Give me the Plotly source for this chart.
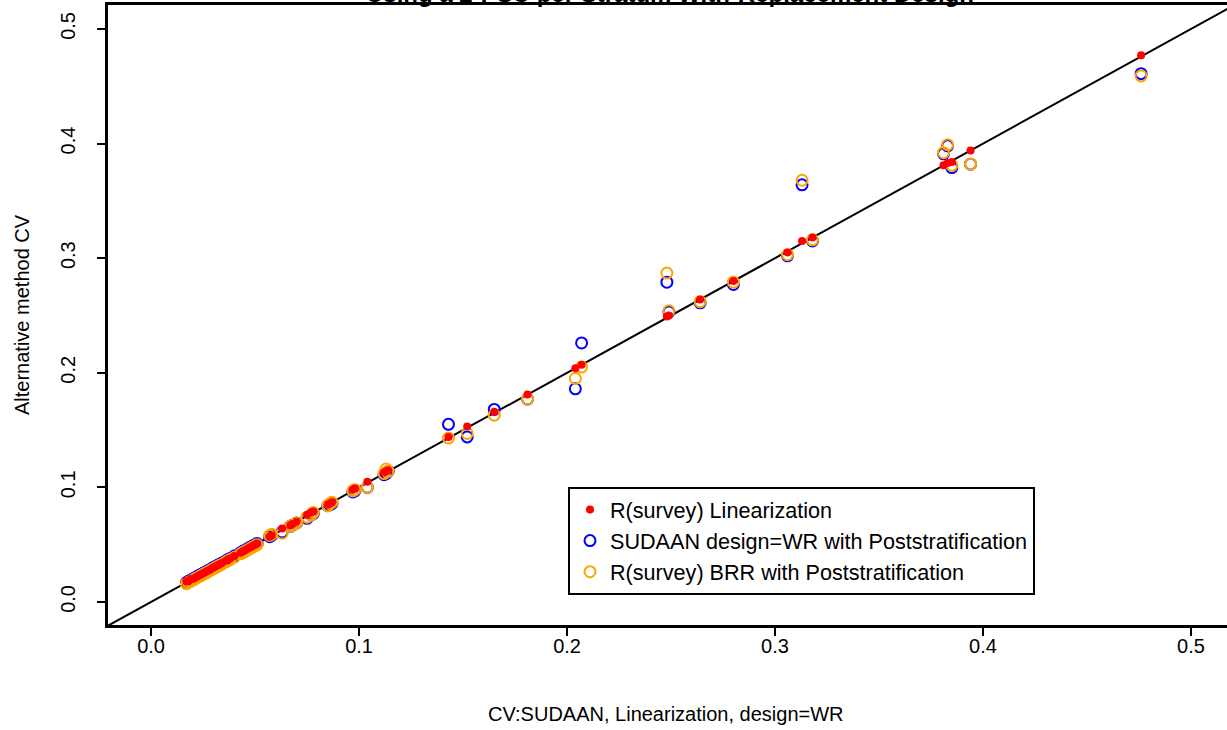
import plotly.graph_objects as go

# ---- data ----
sudaan_lin_cv = [
    0.017, 0.018, 0.019, 0.020, 0.021, 0.022, 0.023, 0.024, 0.025, 0.026,
    0.027, 0.028, 0.029, 0.030, 0.031, 0.032, 0.033, 0.034, 0.036, 0.037,
    0.038, 0.040, 0.043, 0.044, 0.045, 0.046, 0.047, 0.048, 0.049, 0.050,
    0.051, 0.057, 0.058, 0.063, 0.067, 0.068, 0.070, 0.075, 0.077, 0.078,
    0.085, 0.086, 0.087, 0.097, 0.098, 0.104, 0.112, 0.113, 0.114,
    0.143, 0.152, 0.165, 0.181, 0.204, 0.207, 0.248, 0.249, 0.264, 0.280,
    0.306, 0.313, 0.318, 0.381, 0.383, 0.385, 0.394, 0.476,
]
r_lin_cv = [
    0.018, 0.018, 0.020, 0.020, 0.021, 0.022, 0.023, 0.024, 0.025, 0.026,
    0.027, 0.028, 0.029, 0.030, 0.031, 0.032, 0.033, 0.034, 0.036, 0.037,
    0.038, 0.040, 0.043, 0.044, 0.045, 0.046, 0.047, 0.048, 0.049, 0.050,
    0.051, 0.057, 0.058, 0.064, 0.067, 0.068, 0.070, 0.076, 0.078, 0.079,
    0.085, 0.086, 0.087, 0.098, 0.099, 0.105, 0.113, 0.114, 0.115,
    0.144, 0.153, 0.166, 0.181, 0.204, 0.207, 0.249, 0.250, 0.264, 0.280,
    0.305, 0.315, 0.318, 0.381, 0.383, 0.384, 0.394, 0.477,
]
sudaan_ps_cv = [
    0.017, 0.018, 0.019, 0.020, 0.021, 0.022, 0.023, 0.024, 0.025, 0.026,
    0.027, 0.028, 0.029, 0.030, 0.031, 0.032, 0.033, 0.034, 0.036, 0.037,
    0.038, 0.040, 0.043, 0.044, 0.045, 0.046, 0.047, 0.048, 0.049, 0.050,
    0.051, 0.057, 0.058, 0.061, 0.066, 0.067, 0.069, 0.073, 0.076, 0.077,
    0.084, 0.085, 0.086, 0.096, 0.097, 0.100, 0.111, 0.112, 0.114,
    0.155, 0.144, 0.168, 0.177, 0.186, 0.226, 0.279, 0.253, 0.261, 0.277,
    0.302, 0.364, 0.315, 0.391, 0.398, 0.379, 0.382, 0.461,
]
brr_ps_cv = [
    0.016, 0.017, 0.018, 0.019, 0.020, 0.021, 0.022, 0.023, 0.024, 0.025,
    0.026, 0.027, 0.028, 0.029, 0.030, 0.031, 0.032, 0.033, 0.035, 0.036,
    0.037, 0.039, 0.042, 0.043, 0.044, 0.045, 0.046, 0.047, 0.048, 0.049,
    0.050, 0.058, 0.059, 0.060, 0.066, 0.067, 0.069, 0.074, 0.076, 0.078,
    0.084, 0.086, 0.087, 0.097, 0.098, 0.100, 0.112, 0.116, 0.114,
    0.143, 0.147, 0.163, 0.177, 0.195, 0.205, 0.287, 0.254, 0.262, 0.279,
    0.303, 0.368, 0.316, 0.392, 0.399, 0.381, 0.382, 0.459,
]
ref_line = [-0.05, 0.55]
tick_vals = [0.0, 0.1, 0.2, 0.3, 0.4, 0.5]
tick_text = ["0.0", "0.1", "0.2", "0.3", "0.4", "0.5"]

FONT = "Liberation Sans, Arial, sans-serif"
W, H = 1227, 730
ML, MR, MT, MB = 108, 0, 5, 105

fig = go.Figure()
fig.add_trace(go.Scatter(x=ref_line, y=ref_line, mode="lines",
                         line=dict(color="black", width=2), showlegend=False,
                         hoverinfo="skip"))
fig.add_trace(go.Scatter(x=sudaan_lin_cv, y=sudaan_ps_cv, mode="markers",
                         name="SUDAAN design=WR with Poststratification",
                         marker=dict(symbol="circle-open", size=11, color="#0000FF",
                                     line=dict(width=2, color="#0000FF"))))
fig.add_trace(go.Scatter(x=sudaan_lin_cv, y=brr_ps_cv, mode="markers",
                         name="R(survey) BRR with Poststratification",
                         marker=dict(symbol="circle-open", size=11, color="#FFA500",
                                     line=dict(width=2, color="#FFA500"))))
fig.add_trace(go.Scatter(x=sudaan_lin_cv, y=r_lin_cv, mode="markers",
                         name="R(survey) Linearization",
                         marker=dict(symbol="circle", size=8, color="#FF0000")))

fig.update_layout(
    width=W, height=H,
    margin=dict(l=ML, r=MR, t=MT, b=MB, pad=0),
    paper_bgcolor="white", plot_bgcolor="white",
    font=dict(family=FONT, size=20, color="black"),
    showlegend=True,
    legend=dict(x=(568 - ML) / (W - ML), y=(625 - 487) / 620,
                xanchor="left", yanchor="top",
                bgcolor="white", bordercolor="black", borderwidth=2,
                font=dict(size=21.6), traceorder="normal",
                itemclick=False),
    xaxis=dict(range=[-0.0207, 0.5173], showgrid=False, zeroline=False,
               showline=True, linecolor="black", linewidth=3, mirror=True,
               ticks="outside", ticklen=8, tickwidth=2, tickcolor="black",
               tickvals=tick_vals, ticktext=tick_text,
               ticklabelstandoff=-7,
               tickfont=dict(size=20)),
    yaxis=dict(range=[-0.0201, 0.5209], showgrid=False, zeroline=False,
               showline=True, linecolor="black", linewidth=3, mirror=False,
               ticks="outside", ticklen=8, tickwidth=2, tickcolor="black",
               tickvals=tick_vals, ticktext=tick_text, tickangle=-90,
               ticklabelstandoff=14,
               tickfont=dict(size=20)),
    annotations=[
        dict(text="CV:SUDAAN, Linearization, design=WR", xref="paper", yref="paper",
             x=(666 - ML) / (W - ML), y=-(714 - 625) / 620, xanchor="center",
             yanchor="middle", showarrow=False, font=dict(size=20)),
        dict(text="Alternative method CV", xref="paper", yref="paper",
             x=-(108 - 22) / 1119, y=(625 - 315) / 620, xanchor="center",
             yanchor="middle", textangle=-90, showarrow=False, font=dict(size=20)),
        dict(text="<b>Using a 2-PSU per Stratum With-Replacement Design</b>",
             xref="paper", yref="paper", x=(670 - ML) / (W - ML),
             y=1 + 12 / 620, xanchor="center", yanchor="middle",
             showarrow=False, font=dict(size=24)),
    ],
)

# legend order: red, blue, orange
fig.data[3].legendrank = 1
fig.data[1].legendrank = 2
fig.data[2].legendrank = 3

fig.write_html("out.html",
               config={"displayModeBar": False},
               post_script="document.body.style.margin='0';"
                           "document.body.style.overflow='hidden';")
